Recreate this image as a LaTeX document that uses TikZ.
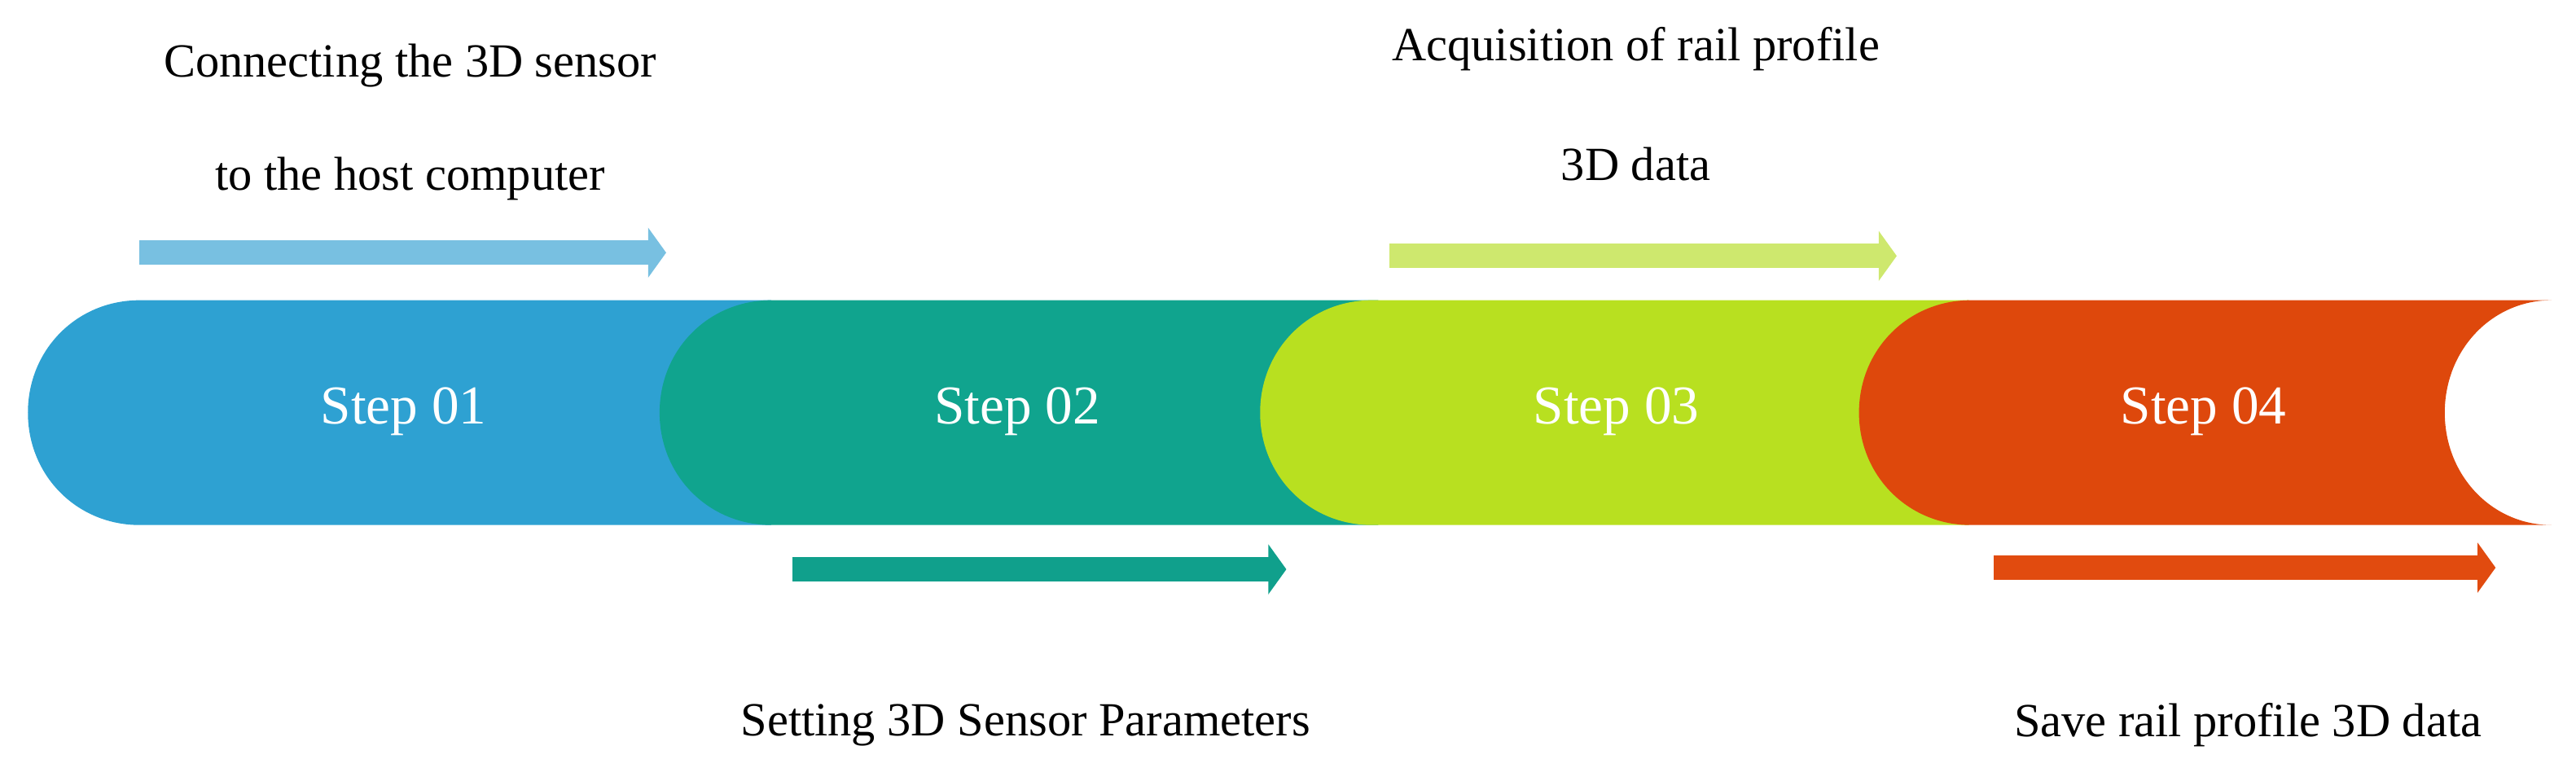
\documentclass[tikz,border=0pt]{standalone}
\usepackage{fontspec}
\setmainfont{Liberation Serif}
\usetikzlibrary{arrows.meta}
\definecolor{cA}{RGB}{46,161,210}
\definecolor{cB}{RGB}{16,164,142}
\definecolor{cC}{RGB}{184,224,32}
\definecolor{cD}{RGB}{222,72,12}
\definecolor{aA}{RGB}{120,192,225}
\definecolor{aB}{RGB}{16,160,140}
\definecolor{aC}{RGB}{206,232,110}
\definecolor{aD}{RGB}{225,75,15}
\newcommand\mypill[3]{%
  \fill[#3] ({#1+68},183) -- (#2,183) -- (#2,320) -- ({#1+68},320)
    .. controls ({#1+30},320) and (#1,290) .. (#1,251.5)
    .. controls (#1,213) and ({#1+30},183) .. ({#1+68},183) -- cycle;}
\begin{document}
\begin{tikzpicture}[x=0.02cm,y=-0.02cm,
  steptext/.style={text=white,font=\fontsize{19}{22}\selectfont},
  lbl/.style={text=black,font=\fontsize{16.5}{20}\selectfont},
  arr/.style={line width=0.3cm,-{Triangle[length=0.22cm,width=0.6cm]}}]
\useasboundingbox (0,0) rectangle (1570,476);
\mypill{17}{470}{cA}
\mypill{402}{840}{cB}
\mypill{768}{1200}{cC}
\fill[cD] (1201,183) -- (1555,183)
  .. controls (1519,183) and (1490,213) .. (1490,251.5)
  .. controls (1490,290) and (1519,320) .. (1555,320)
  -- (1201,320) .. controls (1163,320) and (1133,290) .. (1133,251.5)
  .. controls (1133,213) and (1163,183) .. (1201,183) -- cycle;
\node[steptext] (s1) at (246,251) {Step 01};
\node[steptext] (s2) at (620,251) {Step 02};
\node[steptext] (s3) at (985,251) {Step 03};
\node[steptext] (s4) at (1343,251) {Step 04};
\node[lbl] (t1a) at (250,40) {Connecting the 3D sensor};
\node[lbl] (t1b) at (250,109) {to the host computer};
\node[lbl] (t3a) at (997,30) {Acquisition of rail profile};
\node[lbl] (t3b) at (997,100) {3D data};
\node[lbl] (t2) at (625,442) {Setting 3D Sensor Parameters};
\node[lbl] (t4) at (1370,442) {Save rail profile 3D data};
\coordinate (a1s) at (85,154); \coordinate (a1e) at (406,154);
\coordinate (a2s) at (483,347); \coordinate (a2e) at (784,347);
\coordinate (a3s) at (847,156); \coordinate (a3e) at (1156,156);
\coordinate (a4s) at (1215,346); \coordinate (a4e) at (1521,346);
\draw[arr,aA] (a1s) -- (a1e);
\draw[arr,aB] (a2s) -- (a2e);
\draw[arr,aC] (a3s) -- (a3e);
\draw[arr,aD] (a4s) -- (a4e);
\end{tikzpicture}
\end{document}
